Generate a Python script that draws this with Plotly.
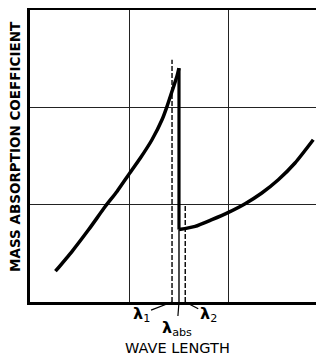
import plotly.graph_objects as go

# Absorption curve below the edge (short wavelengths)
curve1_x = [0.256, 0.424, 0.591, 0.759, 0.876, 0.993, 1.111, 1.228, 1.329, 1.379, 1.429, 1.479, 1.500]
curve1_y = [0.316, 0.521, 0.744, 0.983, 1.136, 1.308, 1.479, 1.667, 1.872, 2.008, 2.162, 2.316, 2.402]

# Absorption curve above the edge (long wavelengths)
curve2_x = [1.500, 1.663, 1.831, 1.998, 2.166, 2.334, 2.500, 2.668, 2.852]
curve2_y = [0.744, 0.777, 0.846, 0.921, 1.010, 1.120, 1.256, 1.428, 1.667]

# Characteristic wavelengths
lambda_1 = 1.43
lambda_abs = 1.50
lambda_2 = 1.563
lambda_1_top = 2.49
lambda_2_top = 1.0

grid_vals = [1, 2]
x_label = "WAVE LENGTH"
y_label = "MASS ABSORPTION COEFFICIENT"
lam_labels = ["<b>λ</b><sub>1</sub>", "<b>λ</b><sub>abs</sub>", "<b>λ</b><sub>2</sub>"]

FONT = "DejaVu Sans"

fig = go.Figure()

# dashed markers for lambda_1 and lambda_2
fig.add_trace(go.Scatter(x=[lambda_1, lambda_1], y=[0, lambda_1_top], mode="lines",
                         line=dict(color="black", width=1.4, dash="5px,2px"),
                         hoverinfo="skip", showlegend=False))
fig.add_trace(go.Scatter(x=[lambda_2, lambda_2], y=[0, lambda_2_top], mode="lines",
                         line=dict(color="black", width=1.4, dash="5px,2px"),
                         hoverinfo="skip", showlegend=False))
# thin solid line at the absorption edge down to the axis
fig.add_trace(go.Scatter(x=[lambda_abs, lambda_abs], y=[0, curve2_y[0]], mode="lines",
                         line=dict(color="black", width=1.4),
                         hoverinfo="skip", showlegend=False))

# curves
fig.add_trace(go.Scatter(x=curve1_x, y=curve1_y, mode="lines",
                         line=dict(color="black", width=3.5, shape="spline", smoothing=0.6),
                         hoverinfo="skip", showlegend=False))
fig.add_trace(go.Scatter(x=[curve1_x[-1], curve2_x[0]], y=[curve1_y[-1], curve2_y[0]],
                         mode="lines", line=dict(color="black", width=3.2),
                         hoverinfo="skip", showlegend=False))
fig.add_trace(go.Scatter(x=curve2_x, y=curve2_y, mode="lines",
                         line=dict(color="black", width=3.5, shape="spline", smoothing=0.6),
                         hoverinfo="skip", showlegend=False))

lab_font = dict(family=FONT, size=16, color="black")
fig.add_annotation(x=lambda_1, y=0, xref="x", yref="y", text=lam_labels[0],
                   showarrow=True, arrowhead=0, arrowwidth=1.2, arrowcolor="black",
                   ax=-31, ay=12, font=lab_font)
fig.add_annotation(x=lambda_abs, y=0, xref="x", yref="y", text=lam_labels[1],
                   showarrow=True, arrowhead=0, arrowwidth=1.2, arrowcolor="black",
                   ax=-2, ay=26, font=lab_font)
fig.add_annotation(x=lambda_2, y=0, xref="x", yref="y", text=lam_labels[2],
                   showarrow=True, arrowhead=0, arrowwidth=1.2, arrowcolor="black",
                   ax=23, ay=12, font=lab_font)

fig.add_annotation(x=0.5, y=0, xref="paper", yref="paper", text=x_label,
                   showarrow=False, xanchor="center", yanchor="top", yshift=-36,
                   font=dict(family=FONT, size=14.5, color="black"))
fig.add_annotation(x=0, y=0.531, xref="paper", yref="paper", text="<b>" + y_label + "</b>",
                   showarrow=False, textangle=-90, xanchor="center", yanchor="middle",
                   xshift=-15, font=dict(family=FONT, size=13.5, color="black"))

fig.update_xaxes(range=[0, 2.96], tickvals=grid_vals, showticklabels=False, ticks="",
                 showgrid=True, gridcolor="#222", gridwidth=1.2, zeroline=False,
                 showline=True, linecolor="black", linewidth=2.5, mirror=True)
fig.update_yaxes(range=[0, 3], tickvals=grid_vals, showticklabels=False, ticks="",
                 showgrid=True, gridcolor="#222", gridwidth=1.2, zeroline=False,
                 showline=True, linecolor="black", linewidth=2.5, mirror=False)

# page body has an 8px margin, so the figure is sized/offset to land at the reference pixels
fig.update_layout(width=316, height=347, margin=dict(l=22, r=0, t=2, b=53),
                  plot_bgcolor="white", paper_bgcolor="white")

fig.write_html("out.html")
